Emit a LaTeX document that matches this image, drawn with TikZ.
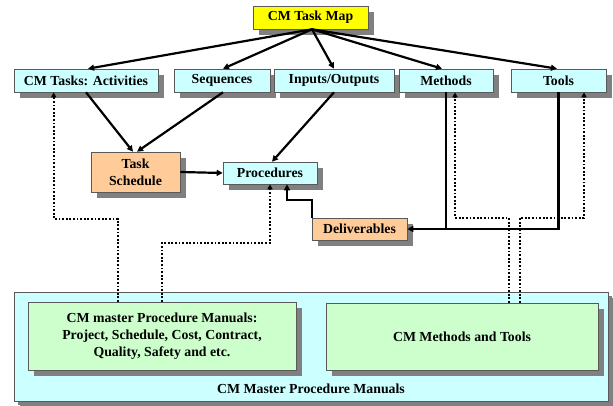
\documentclass[tikz,border=0pt]{standalone}
\usepackage{fontspec}
\setmainfont{Liberation Serif}
\usetikzlibrary{arrows.meta,shadows,calc}
\definecolor{cyanbox}{HTML}{CCFFFF}
\definecolor{orangebox}{HTML}{FFCC99}
\definecolor{greenbox}{HTML}{CCFFCC}
\definecolor{yellowbox}{HTML}{FFFF00}
\definecolor{shadowgray}{HTML}{808080}
\begin{document}
\begin{tikzpicture}[x=1pt,y=-1pt,
  box/.style={draw=black!65, line width=0.6pt, inner sep=0pt, align=center,
    font=\fontsize{13.8}{17}\selectfont\bfseries,
    drop shadow={shadow xshift=6pt, shadow yshift=-6pt, fill=shadowgray, opacity=1}},
  cbox/.style={box, fill=cyanbox},
  obox/.style={box, fill=orangebox},
  gbox/.style={box, fill=greenbox},
  arr/.style={line width=2.2pt, -{Triangle[length=6pt,width=6pt]}},
  solid line/.style={line width=2.2pt},
  dotarr/.style={line width=1.8pt, dash pattern=on 1.8pt off 1.8pt, -{Triangle[length=5pt,width=5pt]}}
]
\useasboundingbox (0,0) rectangle (613,406);
% bottom container
\node[box, fill=cyanbox, minimum width=594pt, minimum height=109pt,
  drop shadow={shadow xshift=4pt, shadow yshift=-4pt, fill=shadowgray, opacity=1}] (outer) at (311,346.5) {};
\node[font=\fontsize{13.8}{17}\selectfont\bfseries] (lbl) at (311,389) {CM Master Procedure Manuals};
\node[gbox, minimum width=268pt, minimum height=68pt] (lgreen) at (162,336)
  {CM master Procedure Manuals:\\Project, Schedule, Cost, Contract,\\Quality, Safety and etc.};
\node[gbox, minimum width=272pt, minimum height=67pt] (rgreen) at (462,336.5) {CM Methods and Tools};

% top
\node[box, fill=yellowbox, minimum width=115pt, minimum height=23pt] (map) at (310.5,17.5) {CM Task Map};
\node[cbox, minimum width=144pt, minimum height=23pt] (tasks) at (86,80.5) {CM Tasks: Activities};
\node[cbox, minimum width=96pt, minimum height=23pt] (seq) at (222,80.5) {Sequences};
\node[cbox, minimum width=120pt, minimum height=23pt] (io) at (334,80.5) {Inputs/Outputs};
\node[cbox, minimum width=94pt, minimum height=23pt] (meth) at (446,80.5) {Methods};
\node[cbox, minimum width=95pt, minimum height=23pt] (tools) at (558.5,80.5) {Tools};

\node[obox, minimum width=89pt, minimum height=40pt] (sched) at (135.5,172) {Task\\Schedule};
\node[cbox, minimum width=94pt, minimum height=22pt] (proc) at (270,173) {Procedures};
\node[obox, minimum width=95pt, minimum height=22pt] (deliv) at (359.5,229) {Deliverables};

% arrows from map
\coordinate (mapout) at ($(map.south)+(1.5,0)$);
\draw[arr] (mapout) -- ($(tasks.north)+(2,0)$);
\draw[arr] (mapout) -- ($(seq.north)+(1,0)$);
\draw[arr] (mapout) -- (io.north);
\draw[arr] (mapout) -- ($(meth.north)+(-4,0)$);
\draw[arr] (mapout) -- ($(tools.north)+(-1.5,0)$);

% to schedule and procedures
\draw[arr] (tasks.south) -- ($(sched.north)+(-2.5,0)$);
\draw[arr] ($(seq.south)+(1,0)$) -- ($(sched.north)+(1.5,0)$);
\draw[arr] (io.south) -- ($(proc.north)+(2,0)$);
\draw[arr] (sched.east) -- (proc.west);
\draw[arr] (deliv.north west) -- ++(0,-18) -| ($(proc.south)+(17,0)$);

% methods/tools to deliverables
\draw[solid line] (meth.south) -- (meth.south |- deliv.east);
\draw[arr] (tools.south) |- (deliv.east);

% dotted feedback
\coordinate (d1) at ($(lgreen.north west)+(90,0)$);
\draw[dotarr] (d1) -- ++(0,-83) -| ($(tasks.south west)+(40,0)$);
\draw[dotarr] (lgreen.north) -- ++(0,-59) -| (proc.south);
\coordinate (d3) at ($(rgreen.north west)+(183,0)$);
\draw[dotarr] (d3) -- ++(0,-85) -| ($(meth.south)+(9,0)$);
\coordinate (d4) at ($(rgreen.north west)+(194,0)$);
\draw[dotarr] (d4) -- ++(0,-85) -| ($(tools.south)+(25.5,0)$);
\end{tikzpicture}
\end{document}
